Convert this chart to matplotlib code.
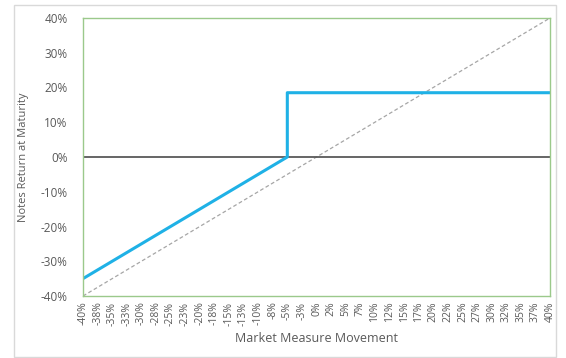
import matplotlib
matplotlib.use('Agg')
import matplotlib.pyplot as plt
from matplotlib.patches import Rectangle

# data
market_move = [-40, -5, -5, 40]
notes_return = [-35, 0, 18.5, 18.5]
ref_x = [-40, 40]
ref_y = [-40, 40]
x_ticks = [-40 + 2.5 * i for i in range(33)]
x_labels = ["-40%", "-38%", "-35%", "-33%", "-30%", "-28%", "-25%", "-23%", "-20%",
            "-18%", "-15%", "-13%", "-10%", "-8%", "-5%", "-3%", "0%", "2%", "5%",
            "7%", "10%", "12%", "15%", "17%", "20%", "22%", "25%", "27%", "30%",
            "32%", "35%", "37%", "40%"]
y_ticks = [-40, -30, -20, -10, 0, 10, 20, 30, 40]
y_labels = ["-40%", "-30%", "-20%", "-10%", "0%", "10%", "20%", "30%", "40%"]

plt.rcParams['font.family'] = ['Open Sans', 'DejaVu Sans']
txt = "#595959"

fig = plt.figure(figsize=(5.66, 3.58), dpi=100)
# outer chart frame
fig.patches.append(Rectangle((14 / 566, 1 / 358), 542 / 566, 352 / 358,
                             transform=fig.transFigure, fill=False,
                             edgecolor="#d9d9d9", linewidth=1))
ax = fig.add_axes([83 / 566, 1 - 296 / 358, 467 / 566, 278 / 358])

ax.plot(ref_x, ref_y, color="#a6a6a6", linestyle=(0, (3, 2)), linewidth=0.9)
ax.axhline(0, color="#595959", linewidth=1.3)
ax.plot(market_move, notes_return, color="#1fb1e6", linewidth=2.2)

ax.set_xlim(-40, 40)
ax.set_ylim(-40, 40)
ax.set_xticks(x_ticks)
ax.set_xticklabels(x_labels, rotation=90, fontsize=7.5, color=txt)
ax.set_yticks(y_ticks)
ax.set_yticklabels(y_labels, fontsize=8.5, color=txt)
ax.tick_params(axis="x", length=0, pad=4)
ax.tick_params(axis="y", length=0, pad=11)

for s in ax.spines.values():
    s.set_color("#9bc98b")
    s.set_linewidth(1)

ax.set_xlabel("Market Measure Movement", fontsize=9, color=txt, labelpad=5)
ax.set_ylabel("Notes Return at Maturity", fontsize=8, color=txt, labelpad=8)

plt.savefig("out.png", dpi=100)
